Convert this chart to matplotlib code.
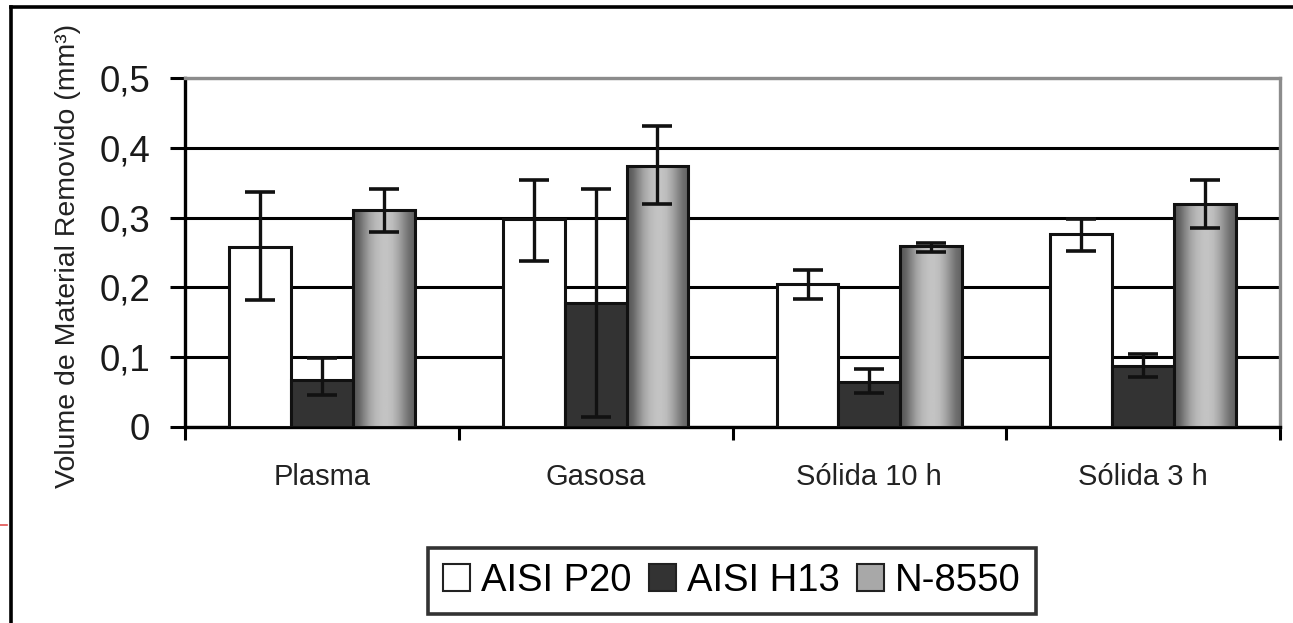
import numpy as np
import matplotlib
matplotlib.use("Agg")
import matplotlib.pyplot as plt
from matplotlib.patches import Patch
from matplotlib.lines import Line2D

plt.rcParams['font.family'] = ['Liberation Sans', 'DejaVu Sans']

categories = ['Plasma', 'Gasosa', 'Sólida 10 h', 'Sólida 3 h']
series_names = ['AISI P20', 'AISI H13', 'N-8550']

p20 = [0.258, 0.298, 0.205, 0.276]
p20_lo = [0.182, 0.238, 0.183, 0.252]
p20_hi = [0.337, 0.354, 0.225, 0.298]

h13 = [0.068, 0.177, 0.065, 0.088]
h13_lo = [0.046, 0.014, 0.049, 0.072]
h13_hi = [0.099, 0.341, 0.083, 0.105]

n8550 = [0.311, 0.374, 0.259, 0.319]
n8550_lo = [0.279, 0.319, 0.251, 0.285]
n8550_hi = [0.341, 0.431, 0.263, 0.354]

yticks = [0, 0.1, 0.2, 0.3, 0.4, 0.5]
ytick_labels = ['0', '0,1', '0,2', '0,3', '0,4', '0,5']

W, H = 1293, 623
fig = plt.figure(figsize=(W / 100, H / 100), dpi=100)
ax = fig.add_axes([185 / W, 1 - 427 / H, (1280 - 185) / W, (427 - 78) / H])

x = np.arange(len(categories))
bw = 0.226
offsets = [-bw, 0, bw]
vals = [p20, h13, n8550]
los = [p20_lo, h13_lo, n8550_lo]
his = [p20_hi, h13_hi, n8550_hi]
faces = ['white', '#333333', '#a8a8a8']

# gradient for N-8550 bars (cylinder-like shading)
grad_pts = np.array([0.33, 0.40, 0.53, 0.65, 0.72, 0.76, 0.77, 0.74, 0.66, 0.55, 0.44, 0.38])
grad = np.interp(np.linspace(0, 1, 64), np.linspace(0, 1, len(grad_pts)), grad_pts)
grad_img = np.tile(grad, (2, 1))

for i in range(3):
    v = np.array(vals[i])
    bars = ax.bar(x + offsets[i], v, width=bw, color=faces[i], edgecolor='#111111',
                  linewidth=2.2, zorder=3)
    if i == 2:
        for b in bars:
            bx, by = b.get_x(), b.get_y()
            im = ax.imshow(grad_img, cmap='gray', vmin=0, vmax=1, aspect='auto',
                           extent=[bx, bx + b.get_width(), by, by + b.get_height()],
                           zorder=3.5, interpolation='bilinear')
            im.set_clip_path(b)
            b.set_facecolor('none')
            b.set_zorder(3.6)
    yerr = [v - np.array(los[i]), np.array(his[i]) - v]
    ax.errorbar(x + offsets[i], v, yerr=yerr, fmt='none', ecolor='#111111',
                elinewidth=2.4, capsize=11, capthick=2.6, zorder=5)

ax.set_xlim(-0.5, 3.5)
ax.set_ylim(0, 0.5)
ax.set_yticks(yticks)
ax.set_yticklabels(ytick_labels, fontsize=26.5, color='#1a1a1a')
ax.yaxis.grid(True, color='black', linewidth=2.2, zorder=0)
ax.set_axisbelow(True)

ax.set_xticks(x)
ax.set_xticklabels(categories, fontsize=21, color='#222222')
ax.set_xticks(np.arange(-0.5, 4.0, 1.0), minor=True)
ax.tick_params(axis='x', which='major', length=0, pad=26)
ax.tick_params(axis='x', which='minor', length=9, width=2.2, direction='out')
ax.tick_params(axis='y', which='major', length=11, width=2.2, direction='out', pad=14)

for s in ['left', 'bottom']:
    ax.spines[s].set_color('black')
    ax.spines[s].set_linewidth(2.4)
for s in ['top', 'right']:
    ax.spines[s].set_color('#8c8c8c')
    ax.spines[s].set_linewidth(2.4)

ax.set_ylabel('Volume de Material Removido (mm³)', fontsize=20.5, color='#222222')
ax.yaxis.set_label_coords(-0.095, 0.49)

handles = [Patch(facecolor=faces[0], edgecolor='#222222', linewidth=1.5),
           Patch(facecolor=faces[1], edgecolor='#222222', linewidth=1.5),
           Patch(facecolor=faces[2], edgecolor='#222222', linewidth=1.5)]
leg = fig.legend(handles, series_names, loc='center', ncol=3,
                 bbox_to_anchor=((427 + 1037) / 2 / W, 1 - 581 / H),
                 fontsize=27.5, frameon=True, fancybox=False, edgecolor='black',
                 handlelength=0.7, handleheight=0.7, handletextpad=0.3,
                 columnspacing=0.45, borderpad=0.38, borderaxespad=0)
leg.get_frame().set_linewidth(2.6)

# outer figure frame (top and left)
fig.add_artist(Line2D([11 / W, 1.0], [1 - 7 / H, 1 - 7 / H], color='black', linewidth=2.6,
                      transform=fig.transFigure))
fig.add_artist(Line2D([11 / W, 11 / W], [0, 1 - 7 / H], color='black', linewidth=2.6,
                      transform=fig.transFigure))
fig.add_artist(Line2D([0, 7 / W], [1 - 525 / H, 1 - 525 / H], color='#e05050', linewidth=1.2,
                      transform=fig.transFigure))

fig.savefig('out.png', dpi=100)
